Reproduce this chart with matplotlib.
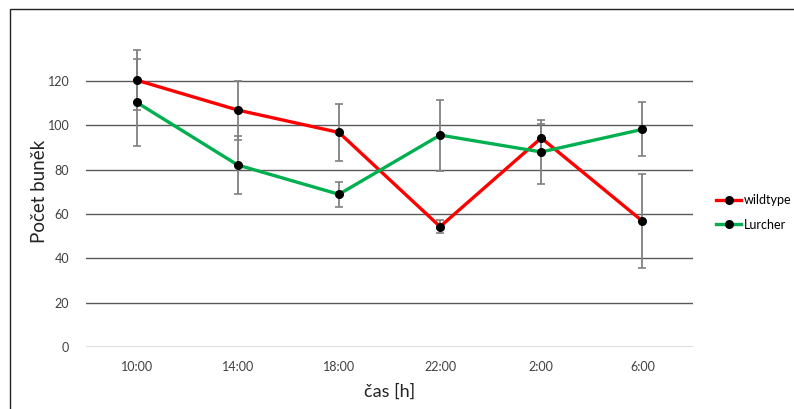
import matplotlib.pyplot as plt
from matplotlib.patches import Rectangle
import numpy as np

plt.rcParams['font.family'] = ['Lato', 'DejaVu Sans']

casy = ["10:00", "14:00", "18:00", "22:00", "2:00", "6:00"]
wildtype = [120.4, 106.9, 96.8, 54.3, 94.3, 56.8]
wildtype_err = [13.5, 13.3, 12.8, 2.8, 6.3, 21.3]
lurcher = [110.4, 82.1, 68.9, 95.6, 88.0, 98.2]
lurcher_err = [19.5, 13.0, 5.6, 16.0, 14.6, 12.2]

fig = plt.figure(figsize=(7.94, 4.09), dpi=100)
ax = fig.add_axes([86 / 794, 62 / 409, 607 / 794, 310.3 / 409])

# ramecek kolem grafu
fig.patches.append(Rectangle((10 / 794, -0.1), 1.2, (409 - 9) / 409 + 0.1,
                             transform=fig.transFigure, fill=False,
                             edgecolor='#222222', linewidth=1.0))

x = np.arange(len(casy))
for vals, err, col, name in [(wildtype, wildtype_err, '#FF0000', 'wildtype'),
                             (lurcher, lurcher_err, '#00B050', 'Lurcher')]:
    ax.errorbar(x, vals, yerr=err, fmt='none', ecolor='#808080',
                elinewidth=1.3, capsize=3, capthick=1.2, zorder=3)
    ax.plot(x, vals, color=col, linewidth=2.4, marker='o', markersize=5.5,
            markerfacecolor='black', markeredgecolor='black', label=name, zorder=4)

ax.set_xlim(-0.5, len(casy) - 0.5)
ax.set_ylim(0, 140)
ax.set_yticks(np.arange(0, 121, 20))
ax.set_xticks(x)
ax.set_xticklabels(casy)
ax.grid(axis='y', color='#5a5a5a', linewidth=1.0)
ax.set_axisbelow(True)
for s in ax.spines.values():
    s.set_visible(False)
ax.tick_params(length=0, labelsize=9, colors='#404040', pad=10)
ax.tick_params(axis='y', pad=12)

ax.set_xlabel("čas [h]", fontsize=13, color='#222222', labelpad=8)
ax.set_ylabel("Počet buněk", fontsize=13.5, color='#222222', labelpad=0)

ax.legend(loc='center left', bbox_to_anchor=(1.02, 0.434), frameon=False,
          fontsize=9, handlelength=2.0, handletextpad=0.2, labelspacing=1.0)

plt.savefig("out.png", dpi=100)
